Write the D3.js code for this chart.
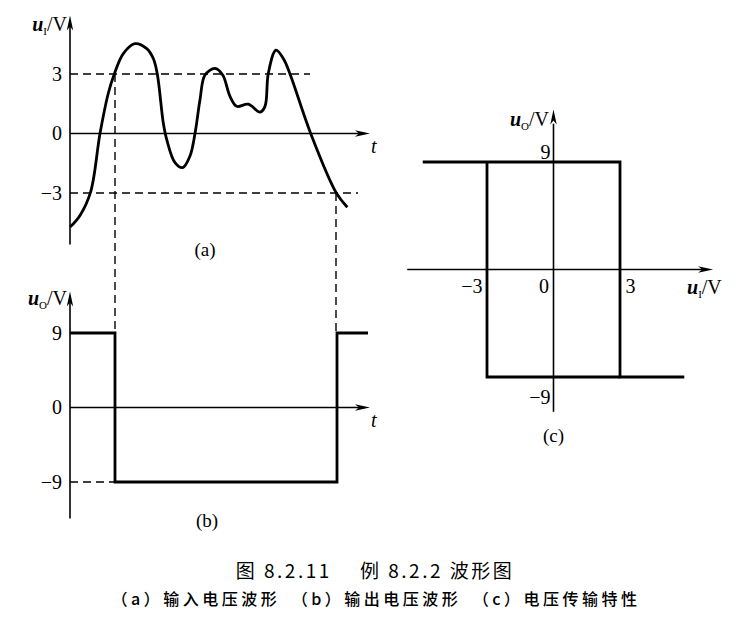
<!DOCTYPE html>
<html>
<head>
<meta charset="utf-8">
<script src="https://cdn.jsdelivr.net/npm/d3@7"></script>
<style>
  body { margin: 0; background: #fff; }
  text { font-family: "Liberation Serif", "DejaVu Serif", serif; fill: #000; }
  .cjk { font-family: "Noto Sans CJK SC", sans-serif; }
</style>
</head>
<body>
<div id="chart"></div>
<script>
// (a) input voltage u_I against t (t in arbitrary units)
var inT = [0, 10, 20.7, 30, 38.3, 44.3, 53.3, 65, 76.7, 83.3, 87.3, 93.3, 96.7, 105, 112.7, 120, 125, 130, 135, 145, 152.7, 160, 166.7, 178.3, 190, 195, 198.3, 206, 213.3, 220, 240.7, 266, 277.3];
var inU = [-4.72, -4.13, -2.93, 0, 2.03, 3.0, 4.03, 4.53, 4.28, 3.78, 3.0, 0.53, -0.3, -1.47, -1.72, -1.13, 0, 1.7, 2.95, 3.28, 2.95, 1.87, 1.37, 1.48, 1.08, 1.37, 3.03, 4.2, 3.78, 3.0, 0, -2.97, -3.72];
var inTicks = [3, 0, -3];
// threshold levels and the times where u_I meets them
var thresholds = [3, -3];
var thresholdEnd = [240, 288];
var switchT = [45, 266];

// (b) output voltage u_O (step after each time)
var outT = [0, 45, 267, 298];
var outU = [9, -9, 9, 9];
var outTicks = [9, 0, -9];

// (c) transfer characteristic, drawn as two polylines
var trA_x = [-5.9, 3, 3, 5.9];
var trA_y = [9, 9, -9, -9];
var trB_x = [-3, -3, 3];
var trB_y = [9, -9, -9];
var trXTicks = [-3, 0, 3];
var trYTicks = [9, -9];

var W = 737, H = 619;
var svg = d3.select("#chart").append("svg").attr("width", W).attr("height", H);

var thick = 2.8, axisW = 1.6, dash = "8,5";
var fmt = function (d) { return d < 0 ? "\u2212" + (-d) : "" + d; };

function arrow(g, x, y, dir) {
  // long narrow filled arrowhead, tip at (x,y)
  var L = 15, w = 3.2, p;
  if (dir == "up") p = [[x, y], [x - w, y + L], [x, y + L - 4], [x + w, y + L]];
  else p = [[x, y], [x - L, y - w], [x - L + 4, y], [x - L, y + w]];
  g.append("path").attr("d", "M" + p.join("L") + "Z").attr("fill", "#000");
}

function axisLabel(g, x, y, sub, anchor) {
  var t = g.append("text").attr("x", x).attr("y", y).attr("text-anchor", anchor || "end").style("font-size", "20px");
  t.append("tspan").text("u").style("font-style", "italic").style("font-weight", "bold");
  t.append("tspan").text(sub).attr("dy", 4).style("font-size", "11px");
  t.append("tspan").text("/V").attr("dy", -4);
}

function styleTicks(sel) {
  sel.selectAll("text").style("font-size", "20px").attr("font-family", null);
}

// ---------- panel (a) ----------
var xa = d3.scaleLinear().domain([0, 300]).range([70, 370]);
var ya = d3.scaleLinear().domain([-3, 3]).range([193, 74]);
var ga = svg.append("g");

// dashed threshold lines
thresholds.forEach(function (v, i) {
  ga.append("line").attr("x1", xa(0)).attr("x2", xa(thresholdEnd[i]))
    .attr("y1", ya(v)).attr("y2", ya(v))
    .attr("stroke", "#000").attr("stroke-width", 1.4).attr("stroke-dasharray", dash);
});

// axes
ga.append("line").attr("x1", xa(0)).attr("x2", xa(0)).attr("y1", ya(-5.6)).attr("y2", ya(5.6))
  .attr("stroke", "#000").attr("stroke-width", axisW);
arrow(ga, xa(0), ya(5.95), "up");
ga.append("line").attr("x1", xa(0)).attr("x2", xa(290)).attr("y1", ya(0)).attr("y2", ya(0))
  .attr("stroke", "#000").attr("stroke-width", axisW);
arrow(ga, xa(300), ya(0), "right");

ga.append("g").attr("transform", "translate(" + xa(0) + ",0)")
  .call(d3.axisLeft(ya).tickValues(inTicks).tickFormat(fmt).tickSize(0).tickPadding(8))
  .call(function (g) { g.select(".domain").remove(); })
  .call(styleTicks);

// input curve
var inData = inT.map(function (t, i) { return [t, inU[i]]; });
ga.append("path").datum(inData)
  .attr("fill", "none").attr("stroke", "#000").attr("stroke-width", thick)
  .attr("d", d3.line().x(function (d) { return xa(d[0]); }).y(function (d) { return ya(d[1]); })
    .curve(d3.curveCatmullRom.alpha(0.5)));

axisLabel(ga, 67, 31, "I");
ga.append("text").attr("x", xa(301)).attr("y", ya(0) + 19).text("t")
  .style("font-style", "italic").style("font-size", "20px");
ga.append("text").attr("x", xa(135)).attr("y", 256).attr("text-anchor", "middle").text("(a)").style("font-size", "19px");

// ---------- panel (b) ----------
var xb = xa;
var yb = d3.scaleLinear().domain([-9, 9]).range([482, 333]);
var gb = svg.append("g");

// vertical dashed projections from (a) to (b)
switchT.forEach(function (t, i) {
  gb.append("line").attr("x1", xa(t)).attr("x2", xa(t))
    .attr("y1", ya(thresholds[i])).attr("y2", yb(9))
    .attr("stroke", "#000").attr("stroke-width", 1.4).attr("stroke-dasharray", dash);
});
gb.append("line").attr("x1", xb(0)).attr("x2", xb(switchT[0])).attr("y1", yb(-9)).attr("y2", yb(-9))
  .attr("stroke", "#000").attr("stroke-width", 1.4).attr("stroke-dasharray", dash);

gb.append("line").attr("x1", xb(0)).attr("x2", xb(0)).attr("y1", yb(-13.4)).attr("y2", yb(13))
  .attr("stroke", "#000").attr("stroke-width", axisW);
arrow(gb, xb(0), yb(14), "up");
gb.append("line").attr("x1", xb(0)).attr("x2", xb(290)).attr("y1", yb(0)).attr("y2", yb(0))
  .attr("stroke", "#000").attr("stroke-width", axisW);
arrow(gb, xb(300), yb(0), "right");

gb.append("g").attr("transform", "translate(" + xb(0) + ",0)")
  .call(d3.axisLeft(yb).tickValues(outTicks).tickFormat(fmt).tickSize(0).tickPadding(8))
  .call(function (g) { g.select(".domain").remove(); })
  .call(styleTicks);

var outData = outT.map(function (t, i) { return [t, outU[i]]; });
gb.append("path").datum(outData)
  .attr("fill", "none").attr("stroke", "#000").attr("stroke-width", thick)
  .attr("d", d3.line().x(function (d) { return xb(d[0]); }).y(function (d) { return yb(d[1]); })
    .curve(d3.curveStepAfter));

axisLabel(gb, 67, 305, "O");
gb.append("text").attr("x", xb(301)).attr("y", yb(0) + 19).text("t")
  .style("font-style", "italic").style("font-size", "20px");
gb.append("text").attr("x", xb(137)).attr("y", 527).attr("text-anchor", "middle").text("(b)").style("font-size", "19px");

// ---------- panel (c) ----------
var xc = d3.scaleLinear().domain([-3, 3]).range([487, 620]);
var yc = d3.scaleLinear().domain([-9, 9]).range([377, 162]);
var gc = svg.append("g");

gc.append("line").attr("x1", xc(0)).attr("x2", xc(0)).attr("y1", yc(-11.9)).attr("y2", yc(12.2))
  .attr("stroke", "#000").attr("stroke-width", axisW);
arrow(gc, xc(0), yc(13.4), "up");
gc.append("line").attr("x1", xc(-6.6)).attr("x2", xc(6.8)).attr("y1", yc(0)).attr("y2", yc(0))
  .attr("stroke", "#000").attr("stroke-width", axisW);
arrow(gc, xc(7.2), yc(0), "right");

var lineC = d3.line().x(function (d) { return xc(d[0]); }).y(function (d) { return yc(d[1]); });
[[trA_x, trA_y], [trB_x, trB_y]].forEach(function (s) {
  gc.append("path").datum(s[0].map(function (x, i) { return [x, s[1][i]]; }))
    .attr("fill", "none").attr("stroke", "#000").attr("stroke-width", thick)
    .attr("stroke-linejoin", "miter").attr("d", lineC);
});

var ax = gc.append("g").attr("transform", "translate(0," + yc(0) + ")")
  .call(d3.axisBottom(xc).tickValues(trXTicks).tickFormat(fmt).tickSize(0).tickPadding(9))
  .call(function (g) { g.select(".domain").remove(); })
  .call(styleTicks);
ax.selectAll("text")
  .attr("text-anchor", function (d) { return d > 0 ? "start" : "end"; })
  .attr("dx", function (d) { return d > 0 ? 5 : -5; });

var ay = gc.append("g").attr("transform", "translate(" + xc(0) + ",0)")
  .call(d3.axisLeft(yc).tickValues(trYTicks).tickFormat(fmt).tickSize(0).tickPadding(3))
  .call(function (g) { g.select(".domain").remove(); })
  .call(styleTicks);
ay.selectAll("text")
  .attr("dy", function (d) { return d > 0 ? "-0.2em" : "1.3em"; });

axisLabel(gc, 549, 126, "O");
axisLabel(gc, 687, 294, "I", "start");
gc.append("text").attr("x", xc(0)).attr("y", 442).attr("text-anchor", "middle").text("(c)").style("font-size", "19px");

// ---------- caption ----------
svg.append("text").attr("class", "cjk").attr("x", 375).attr("y", 578).attr("text-anchor", "middle")
  .style("font-size", "19px").style("letter-spacing", "2.5px")
  .text("图 8.2.11　 例 8.2.2 波形图");
svg.append("text").attr("class", "cjk").attr("x", 376).attr("y", 605).attr("text-anchor", "middle")
  .style("font-size", "16px").style("font-weight", "500").style("letter-spacing", "3.5px")
  .text("（a）输入电压波形　（b）输出电压波形　（c）电压传输特性");
</script>
</body>
</html>
